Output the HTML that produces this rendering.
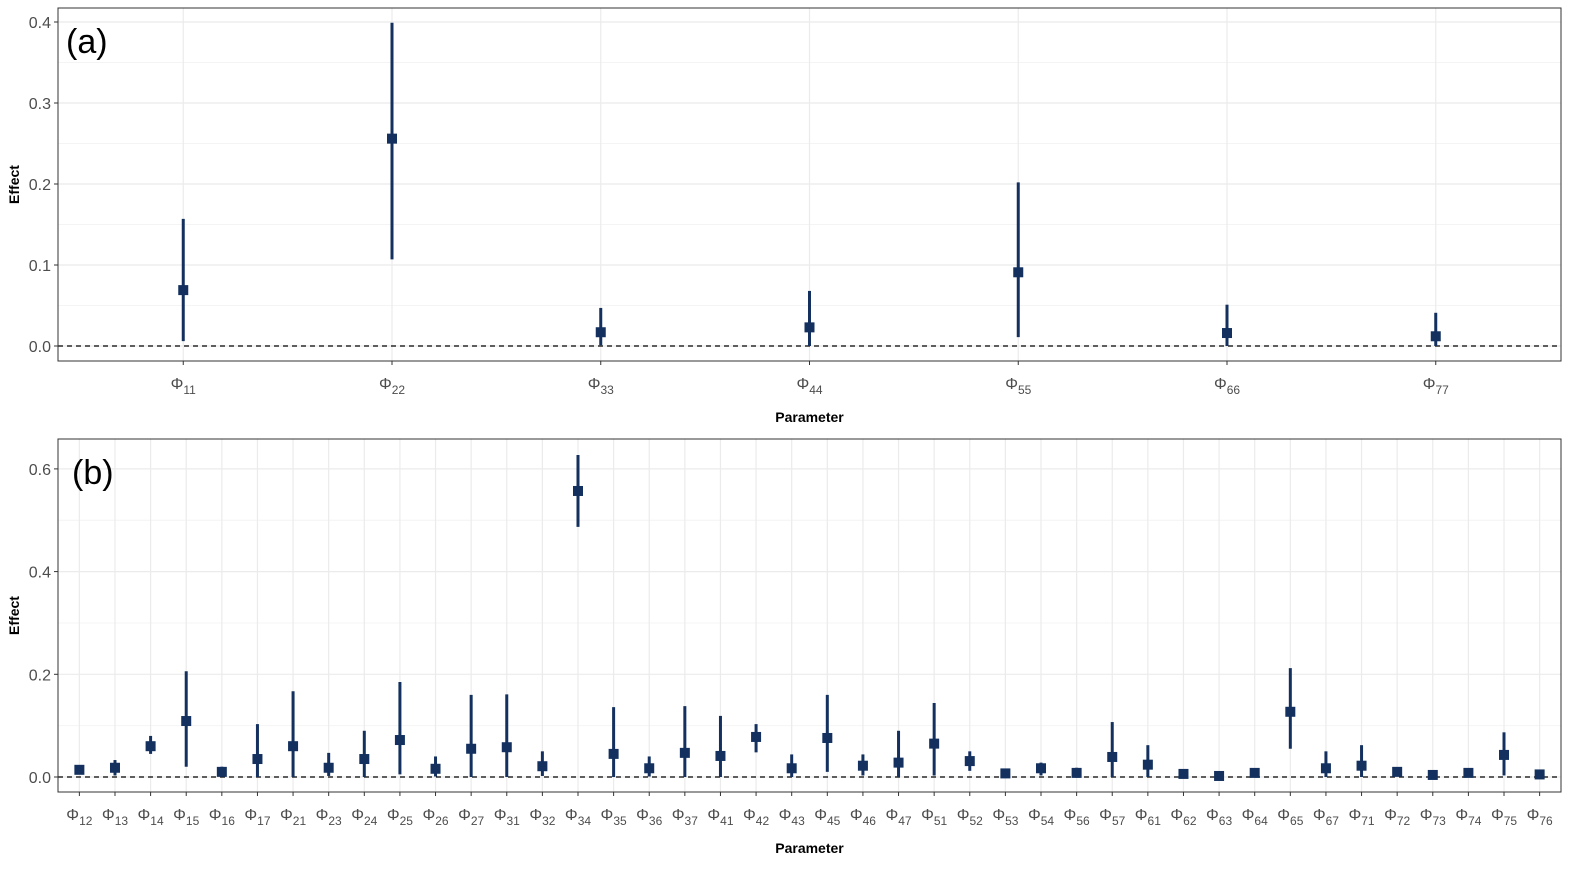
<!DOCTYPE html>
<html><head><meta charset="utf-8"><style>
body{margin:0;background:#fff}
svg{display:block;font-family:"Liberation Sans","DejaVu Sans",sans-serif}
</style></head><body>
<svg id="c" width="1595" height="878" viewBox="0 0 1595 878"></svg>
<script>
const catsA=["11","22","33","44","55","66","77"];
const estA=[0.069,0.256,0.017,0.023,0.091,0.016,0.012];
const loA=[0.006,0.107,0.001,0.0,0.011,0.0,0.0];
const hiA=[0.157,0.399,0.047,0.068,0.202,0.051,0.041];
const ticksA=[0,0.1,0.2,0.3,0.4];
const tickLabA=["0.0","0.1","0.2","0.3","0.4"];

const catsB=["12","13","14","15","16","17","21","23","24","25","26","27","31","32","34","35","36","37","41","42","43","45","46","47","51","52","53","54","56","57","61","62","63","64","65","67","71","72","73","74","75","76"];
const estB=[0.014,0.018,0.06,0.109,0.01,0.035,0.06,0.018,0.035,0.072,0.016,0.055,0.058,0.021,0.557,0.045,0.017,0.047,0.041,0.078,0.017,0.076,0.022,0.028,0.065,0.031,0.007,0.017,0.008,0.039,0.024,0.006,0.002,0.008,0.127,0.017,0.022,0.01,0.004,0.008,0.043,0.005];
const loB=[0.007,0.003,0.045,0.02,0.002,0,0,0.002,0,0.005,0.001,0,0,0.002,0.487,0,0.001,0,0,0.048,0,0.01,0.003,0,0.003,0.012,0.001,0.003,0,0,0,0.001,0,0.004,0.055,0,0,0.004,0,0.002,0.003,0];
const hiB=[0.02,0.033,0.08,0.206,0.02,0.103,0.167,0.047,0.09,0.185,0.04,0.16,0.161,0.05,0.627,0.136,0.04,0.138,0.119,0.103,0.044,0.16,0.044,0.09,0.144,0.05,0.014,0.028,0.018,0.107,0.062,0.01,0.006,0.012,0.212,0.05,0.062,0.015,0.008,0.014,0.087,0.01];
const ticksB=[0,0.2,0.4,0.6];
const tickLabB=["0.0","0.2","0.4","0.6"];

const NS="http://www.w3.org/2000/svg";
const svg=document.getElementById('c');
function mk(tag,attrs,parent,text){const e=document.createElementNS(NS,tag);for(const k in attrs)e.setAttribute(k,attrs[k]);if(text!==undefined)e.textContent=text;(parent||svg).appendChild(e);return e;}

function panel(cfg){
  const g=mk('g',{});
  
  
  const L=58,R=1561,T=cfg.top,B=cfg.bottom;
  const n=cfg.cats.length;
  const x=i=>L+(i+1-0.4)*(R-L)/(n-1+1.2);
  const y=v=>cfg.y0+(v)*cfg.scale*-1;
  // minor grid
  for(let k=0;k<cfg.ticks.length;k++){
    const v=cfg.ticks[k]+cfg.step/2;
    const yy=y(v); if(yy>T&&yy<B){const m=mk('line',{x1:L,x2:R,y1:yy,y2:yy,stroke:'#f4f4f4','stroke-width':1},g);}
  }
  const ym=y(-cfg.step/2); if(ym<B){mk('line',{x1:L,x2:R,y1:ym,y2:ym,stroke:'#f4f4f4','stroke-width':1},g);}
  cfg.ticks.forEach((v,k)=>{
    const yy=y(v);
    const gl=mk('line',{x1:L,x2:R,y1:yy,y2:yy,stroke:'#ebebeb','stroke-width':1.2},g);
    
    mk('line',{x1:L-4,x2:L,y1:yy,y2:yy,stroke:'#333','stroke-width':1},g);
    const t=mk('text',{x:L-7,y:yy+6,'text-anchor':'end','font-size':16,fill:'#4d4d4d'},g,cfg.tickLab[k]);
    
  });
  cfg.cats.forEach((c,i)=>{
    const xx=x(i);
    const gl=mk('line',{x1:xx,x2:xx,y1:T,y2:B,stroke:'#ebebeb','stroke-width':1.2},g);
    
    mk('line',{x1:xx,x2:xx,y1:B,y2:B+4,stroke:'#333','stroke-width':1},g);
    const t=mk('text',{x:xx,y:B+28,'text-anchor':'middle','font-size':16,fill:'#4d4d4d'},g);
    
    mk('tspan',{},t,'Φ');
    mk('tspan',{'font-size':12,dy:5},t,c);
  });
  // zero line
  const z=mk('line',{x1:L,x2:R,y1:y(0),y2:y(0),stroke:'#000','stroke-width':1.2,'stroke-dasharray':'5,4'},g);
  
  cfg.cats.forEach((c,i)=>{
    const xx=x(i);
    const l=mk('line',{x1:xx,x2:xx,y1:y(cfg.lo[i]),y2:y(cfg.hi[i]),stroke:'#13305e','stroke-width':3},g);
    
    const p=mk('rect',{x:xx-5,y:y(cfg.est[i])-5,width:10,height:10,fill:'#13305e'},g);
    
  });
  const bd=mk('rect',{x:L,y:T,width:R-L,height:B-T,fill:'none',stroke:'#333','stroke-width':1},g);
  
  const lab=mk('text',{x:cfg.labX,y:T+45,'font-size':34,fill:'#000'},g,cfg.label);
  
  const xt=mk('text',{x:(L+R)/2,y:B+61,'text-anchor':'middle','font-size':14,'font-weight':'bold'},g,'Parameter');
  
  const cy=(T+B)/2;
  const yt=mk('text',{x:19,y:cy,'text-anchor':'middle','font-size':14,'font-weight':'bold',transform:`rotate(-90 19 ${cy})`},g,'Effect');
  
}
panel({name:'panel-a',cats:catsA,est:estA,lo:loA,hi:hiA,ticks:ticksA,tickLab:tickLabA,step:0.1,top:8,bottom:361,y0:346,scale:810,label:'(a)',labX:66});
panel({name:'panel-b',cats:catsB,est:estB,lo:loB,hi:hiB,ticks:ticksB,tickLab:tickLabB,step:0.2,top:439,bottom:792,y0:777,scale:513.5,label:'(b)',labX:72});
</script>
</body></html>
